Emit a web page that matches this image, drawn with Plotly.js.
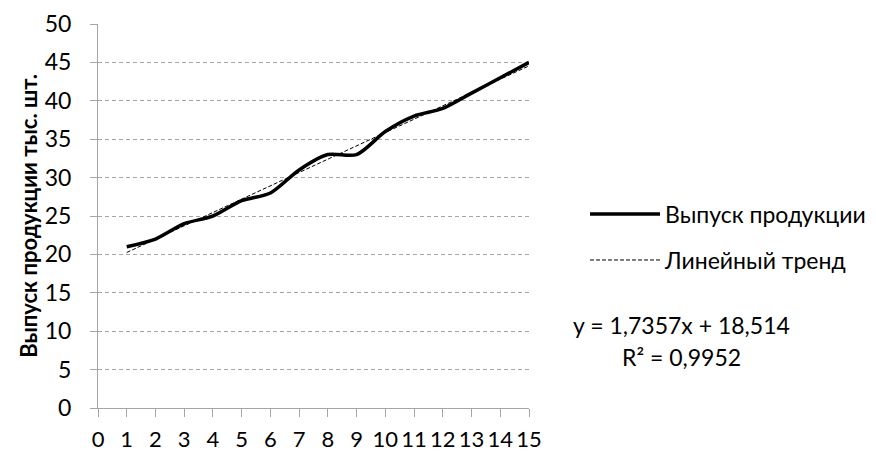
<!DOCTYPE html>
<html><head><meta charset="utf-8">
<script src="https://cdn.plot.ly/plotly-3.0.1.min.js"></script>
<style>html,body{margin:0;padding:0;background:#fff}#c{width:876px;height:454px}</style>
</head><body><div id="c"></div>
<script>
const periods = [1,2,3,4,5,6,7,8,9,10,11,12,13,14,15];
const output = [21,22,24,25,27,28,31,33,33,36,38,39,41,43,45];
const xTickVals = [0,1,2,3,4,5,6,7,8,9,10,11,12,13,14,15];
const seriesName = 'Выпуск продукции';
const trendName = 'Линейный тренд';
const yTitle = 'Выпуск продукции тыс. шт.';
const eqText = 'y = 1,7357x + 18,514';
const r2Text = 'R² = 0,9952';

// least squares trend from the data
const n = periods.length;
const mx = periods.reduce((a,b)=>a+b,0)/n;
const my = output.reduce((a,b)=>a+b,0)/n;
let sxy=0, sxx=0;
for(let i=0;i<n;i++){sxy+=(periods[i]-mx)*(output[i]-my);sxx+=(periods[i]-mx)**2;}
const slope=sxy/sxx, icpt=my-slope*mx;
const trendX=[periods[0], periods[n-1]];
const trendY=trendX.map(x=>icpt+slope*x);

const F = 'Lato, Open Sans, sans-serif';
const FS = 23;
const data = [
  {x:periods, y:output, type:'scatter', mode:'lines', name:seriesName, legendgroup:'a',
   line:{color:'#000', width:3.5, shape:'spline', smoothing:0.8}},
  {x:trendX, y:trendY, type:'scatter', mode:'lines', name:trendName, legendgroup:'b',
   line:{color:'#000', width:1, dash:'4px,2px'}}
];
const layout = {
  width:876, height:454,
  margin:{l:98, r:347, t:24, b:46, autoexpand:false},
  paper_bgcolor:'#fff', plot_bgcolor:'#fff',
  font:{family:F, size:FS, color:'#000'},
  showlegend:true,
  legend:{x:1.13, y:0.445, xanchor:'left', yanchor:'middle', itemwidth:70,
    font:{family:F, size:FS, color:'#000'}, tracegroupgap:13, bgcolor:'rgba(0,0,0,0)'},
  xaxis:{range:[0,15], tickvals:xTickVals, ticktext:xTickVals.map(String), tickangle:0, automargin:false,
    showgrid:false, zeroline:false, showline:true, linecolor:'#a6a6a6', linewidth:1,
    ticks:'outside', ticklen:8, tickcolor:'#a6a6a6', tickfont:{size:22}, ticklabelstandoff:4, fixedrange:true},
  yaxis:{range:[0,50], dtick:5, tick0:0, showgrid:true, gridcolor:'#a6a6a6', griddash:'4px,3px',
    gridwidth:1, zeroline:false, showline:true, linecolor:'#a6a6a6', linewidth:1, automargin:false,
    ticks:'outside', ticklen:7, tickcolor:'#a6a6a6', tickfont:{size:FS}, ticklabelstandoff:14,
    title:{text:'<b>'+yTitle+'</b>', font:{size:22}, standoff:1}, fixedrange:true},
  annotations:[
    {xref:'paper', yref:'paper', x:1.353, y:0.216, xanchor:'center', yanchor:'middle',
     text:eqText, showarrow:false, font:{size:FS}},
    {xref:'paper', yref:'paper', x:1.353, y:0.133, xanchor:'center', yanchor:'middle',
     text:r2Text, showarrow:false, font:{size:FS}}
  ]
};
Plotly.newPlot('c', data, layout, {displayModeBar:false, staticPlot:true});
</script></body></html>
